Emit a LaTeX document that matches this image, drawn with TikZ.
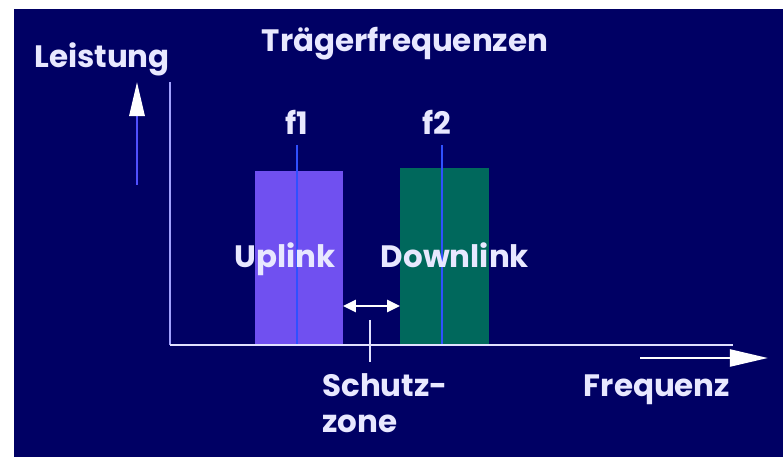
\documentclass[tikz,border=0pt]{standalone}
\usepackage{fontspec}
\setmainfont{Poppins}
\usetikzlibrary{arrows.meta,positioning}
\definecolor{navy}{RGB}{0,0,100}
\definecolor{txt}{RGB}{232,232,255}
\definecolor{uplc}{RGB}{112,80,240}
\definecolor{dnlc}{RGB}{0,104,92}
\definecolor{fline}{RGB}{48,80,255}
\definecolor{yaxis}{RGB}{160,160,255}
\definecolor{xaxis}{RGB}{225,225,255}
\definecolor{shaft}{RGB}{80,80,255}
\begin{document}
\begin{tikzpicture}[x=0.025cm,y=-0.025cm,
    lbl/.style={text=txt,font=\bfseries\fontsize{22}{26}\selectfont,inner sep=0pt,anchor=base},
    band/.style={draw=none,anchor=south west,minimum width=2.2cm,inner sep=0pt},
    fmark/.style={fline,line width=1.5pt},
    axisline/.style={line width=1.4pt},
    bigarrow/.style={line width=2pt,-{Triangle[length=0.95cm,width=0.42cm]}}]
    \useasboundingbox (0,0) rectangle (783,457);
    \fill[white] (0,0) rectangle (783,457);
    \fill[navy] (14,9) rectangle (783,457);
    % Baender
    \node[band,fill=uplc,minimum height=4.35cm] (upband) at (255,345) {};
    \node[band,fill=dnlc,minimum width=2.225cm,minimum height=4.425cm] (dnband) at (400,345) {};
    % Traegerfrequenzen
    \node[lbl] (f1) at (297,135) {f1};
    \node[lbl] (f2) at (437,135) {f2};
    \coordinate (f1b) at (297,345);
    \coordinate (f2b) at (442,345);
    \draw[fmark] (f1b |- 0,145) -- (f1b);
    \draw[fmark] (f2b |- 0,145) -- (f2b);
    % Achsen
    \coordinate (o) at (170,345);
    \coordinate (ytop) at (170,82);
    \coordinate (xend) at (733,345);
    \draw[axisline,yaxis] (o) -- (ytop);
    \draw[axisline,xaxis] (o) -- (xend);
    % Pfeile
    \coordinate (pa) at (137,185);
    \coordinate (pb) at (137,82);
    \draw[bigarrow,shaft,line width=1.7pt,-{Triangle[length=0.85cm,width=0.38cm,color=white]}] (pa) -- (pb);
    \coordinate (fa) at (640,358);
    \coordinate (fb) at (768,358);
    \draw[bigarrow,white] (fa) -- (fb);
    \coordinate (za) at (343,306);
    \coordinate (zb) at (400,306);
    \draw[white,line width=1.5pt,{Triangle[length=0.32cm,width=0.3cm]}-{Triangle[length=0.32cm,width=0.3cm]}] (za) -- (zb);
    \coordinate (tka) at (370,320);
    \coordinate (tkb) at (370,362);
    \draw[xaxis,line width=1.2pt] (tka) -- (tkb);
    % Beschriftungen
    \node[lbl] (leistung) at (102,68) {Leistung};
    \node[lbl] (traeger) at (405,52) {Trägerfrequenzen};
    \node[lbl] (uplink) at (285,268) {Uplink};
    \node[lbl] (downlink) at (455,268) {Downlink};
    \node[lbl,anchor=base west] (schutz) at (322,397) {Schutz-};
    \node[lbl,anchor=base west] (zone) at (322,433) {zone};
    \node[lbl] (frequenz) at (657,397) {Frequenz};
\end{tikzpicture}
\end{document}
